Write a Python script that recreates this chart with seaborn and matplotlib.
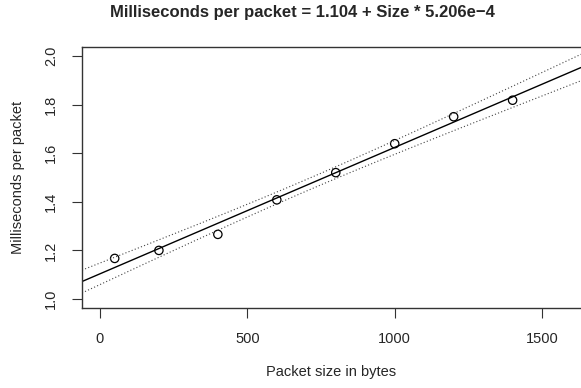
import numpy as np
import pandas as pd
import seaborn as sns
import matplotlib.pyplot as plt

# values
packet_size = [50, 200, 400, 600, 800, 1000, 1200, 1400]
ms_per_packet = [1.167, 1.200, 1.266, 1.408, 1.520, 1.639, 1.750, 1.818]
x_ticks = [0, 500, 1000, 1500]
y_ticks = [1.0, 1.2, 1.4, 1.6, 1.8, 2.0]
title = "Milliseconds per packet = 1.104 + Size * 5.206e\u22124"

df = pd.DataFrame({"size": packet_size, "ms": ms_per_packet})

sns.set_style("ticks")
plt.rcParams["font.family"] = ["Liberation Sans", "DejaVu Sans"]

fig = plt.figure(figsize=(5.81, 3.88), dpi=100)
ax = fig.add_axes([0.1411, 0.2062, 0.8589, 0.6727])
ax.set_xlim(-61, 1632)
ax.set_ylim(0.963, 2.037)

# fitted line across the whole axis
sns.regplot(data=df, x="size", y="ms", ci=None, truncate=False, scatter=False,
            color="black", line_kws={"linewidth": 1.0}, ax=ax)

# 95% confidence band (dotted), computed from the data
x = np.asarray(packet_size, float)
y = np.asarray(ms_per_packet, float)
n = len(x)
slope, intercept = np.polyfit(x, y, 1)
resid = y - (intercept + slope * x)
s = np.sqrt(np.sum(resid ** 2) / (n - 2))
sxx = np.sum((x - x.mean()) ** 2)
t_val = 2.447  # t(0.975, df=6)
xs = np.linspace(*ax.get_xlim(), 200)
fit = intercept + slope * xs
half = t_val * s * np.sqrt(1 / n + (xs - x.mean()) ** 2 / sxx)
ax.plot(xs, fit + half, linestyle=(0, (1, 2)), color="#444444", linewidth=0.8)
ax.plot(xs, fit - half, linestyle=(0, (1, 2)), color="#444444", linewidth=0.8)

sns.scatterplot(data=df, x="size", y="ms", marker="o", s=36,
                facecolors="none", edgecolor="black", linewidth=0.9, ax=ax)

ax.set_xticks(x_ticks)
ax.set_yticks(y_ticks)
ax.set_xticklabels([str(v) for v in x_ticks], fontsize=10.5)
ax.set_yticklabels([f"{v:.1f}" for v in y_ticks], fontsize=10.5,
                   rotation=90, va="center")
ax.tick_params(axis="both", direction="out", length=7, width=0.8,
               color="#333333", pad=10)
ax.set_xlabel("Packet size in bytes", fontsize=10.5, labelpad=14)
ax.set_ylabel("Milliseconds per packet", fontsize=10.5, labelpad=14)

for side in ["left", "bottom", "top"]:
    ax.spines[side].set_color("#333333")
    ax.spines[side].set_linewidth(1.0)
ax.spines["right"].set_visible(False)

fig.text(0.52, 0.969, title, ha="center", va="center",
         fontsize=12, fontweight="bold")

plt.savefig("out.png", dpi=100)
